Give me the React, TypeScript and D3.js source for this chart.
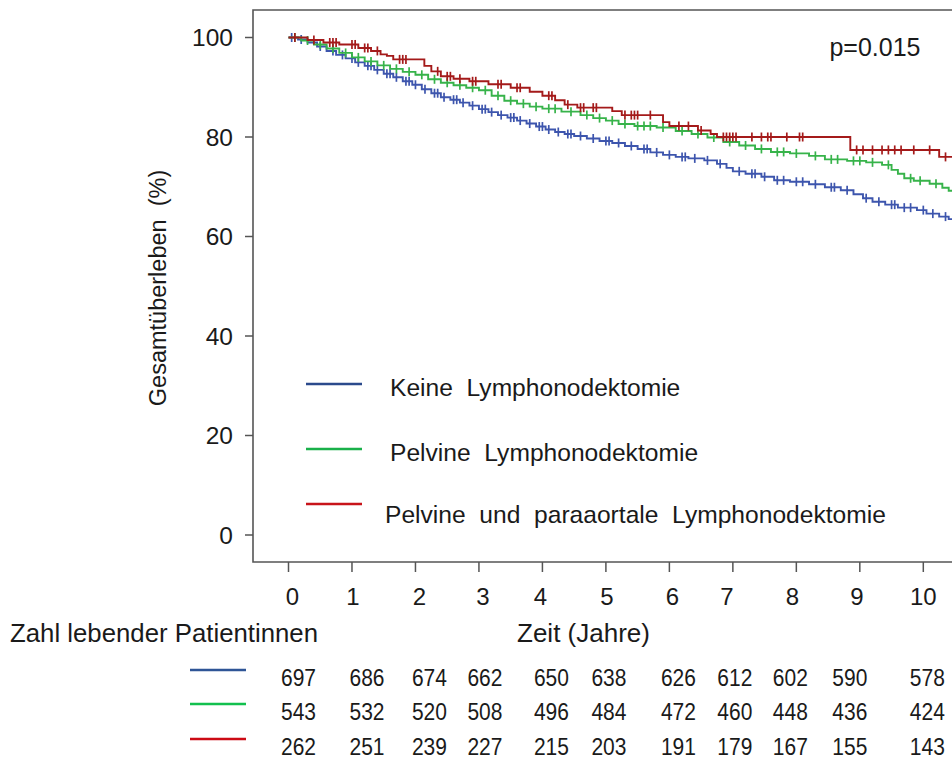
import React from "react";
import * as d3 from "d3";

// ---------- DATA ----------
const seriesNames = [
  "Keine  Lymphonodektomie",
  "Pelvine  Lymphonodektomie",
  "Pelvine  und  paraaortale  Lymphonodektomie",
];

// Kaplan-Meier steps: [time (years), survival (%)]
const blueSteps: [number, number][] = [
  [0, 100], [0.15, 99.6], [0.3, 99.0], [0.45, 98.2], [0.6, 97.3], [0.75, 96.5], [0.9, 95.8],
  [1.05, 95.0], [1.2, 94.3], [1.35, 93.5], [1.5, 92.7], [1.65, 92.0], [1.8, 91.2], [1.95, 90.5],
  [2.1, 89.6], [2.25, 88.8], [2.4, 88.0], [2.55, 87.5], [2.7, 86.9], [2.85, 86.3], [3.0, 85.6],
  [3.15, 85.0], [3.3, 84.4], [3.45, 83.9], [3.6, 83.3], [3.75, 82.7], [3.9, 82.1], [4.05, 81.5],
  [4.2, 81.0], [4.35, 80.6], [4.5, 80.2], [4.7, 79.7], [4.9, 79.2], [5.1, 78.8], [5.3, 78.2],
  [5.5, 77.6], [5.7, 76.9], [5.9, 76.4], [6.1, 76.0], [6.3, 75.7], [6.55, 75.3], [6.75, 74.6],
  [6.9, 73.8], [7.0, 73.1], [7.2, 72.6], [7.45, 72.0], [7.65, 71.3], [7.9, 71.0], [8.2, 70.5],
  [8.45, 69.9], [8.7, 69.3], [8.9, 68.5], [9.05, 67.7], [9.2, 67.0], [9.4, 66.4], [9.6, 65.8],
  [9.9, 65.3], [10.05, 64.6], [10.25, 64.0], [10.4, 63.5], [10.5, 63.5],
];
const greenSteps: [number, number][] = [
  [0, 100], [0.2, 99.4], [0.4, 98.6], [0.6, 97.8], [0.8, 96.9], [1.0, 96.0], [1.2, 95.2],
  [1.4, 94.4], [1.6, 93.7], [1.8, 93.1], [2.0, 92.5], [2.2, 91.6], [2.4, 90.9], [2.6, 90.4],
  [2.8, 89.9], [3.0, 89.4], [3.2, 88.3], [3.4, 87.3], [3.6, 86.7], [3.8, 86.1], [4.0, 85.7],
  [4.3, 85.1], [4.6, 84.4], [4.8, 83.8], [5.0, 83.3], [5.2, 82.6], [5.45, 82.2], [5.8, 81.9],
  [6.1, 81.2], [6.35, 80.6], [6.6, 79.9], [6.85, 79.0], [7.1, 78.3], [7.35, 77.6], [7.6, 77.0],
  [7.9, 76.7], [8.2, 76.2], [8.45, 75.5], [8.8, 75.2], [9.1, 74.9], [9.35, 74.4], [9.5, 73.4],
  [9.6, 72.6], [9.7, 71.7], [9.85, 71.2], [10.1, 70.6], [10.3, 69.8], [10.4, 69.2], [10.5, 69.2],
];
const redSteps: [number, number][] = [
  [0, 100], [0.3, 99.5], [0.55, 99.0], [0.8, 98.6], [1.1, 97.9], [1.3, 97.3], [1.45, 96.6],
  [1.55, 96.3], [1.65, 95.6], [2.14, 94.3], [2.25, 93.2], [2.4, 92.2], [2.6, 91.7], [2.85, 91.2],
  [3.15, 90.6], [3.5, 89.9], [3.8, 89.1], [4.0, 88.3], [4.2, 87.4], [4.35, 86.5], [4.55, 85.9],
  [5.1, 85.2], [5.25, 84.4], [5.9, 83.0], [6.0, 82.2], [6.45, 81.3], [6.65, 80.6], [6.75, 80.0],
  [8.85, 77.4], [10.25, 76.0], [10.5, 76.0],
];

// censoring times (years)
const blueCensor = [
  0.05, 0.2, 0.5, 0.7, 0.85, 1.0, 1.1, 1.25, 1.3, 1.4, 1.55, 1.6, 1.7, 1.85, 1.9, 2.0, 2.15,
  2.3, 2.35, 2.45, 2.6, 2.65, 2.75, 2.9, 3.05, 3.1, 3.2, 3.35, 3.5, 3.55, 3.65, 3.8, 3.95, 4.0,
  4.1, 4.25, 4.4, 4.45, 4.6, 4.8, 5.0, 5.05, 5.2, 5.4, 5.6, 5.65, 5.8, 6.0, 6.2, 6.25, 6.4, 6.6,
  6.8, 7.1, 7.3, 7.35, 7.5, 7.7, 7.8, 8.0, 8.1, 8.3, 8.55, 8.6, 8.8, 9.1, 9.3, 9.5, 9.55, 9.7,
  9.8, 10.0, 10.15, 10.35,
];
const greenCensor = [
  0.1, 0.3, 0.5, 0.7, 0.9, 1.1, 1.3, 1.5, 1.7, 1.9, 2.1, 2.3, 2.5, 2.7, 2.9, 3.1, 3.3, 3.5,
  3.7, 3.9, 4.1, 4.2, 4.45, 4.7, 4.9, 5.1, 5.3, 5.5, 5.6, 5.7, 5.9, 6.2, 6.45, 6.7, 6.95, 7.2,
  7.45, 7.7, 7.8, 8.0, 8.3, 8.55, 8.65, 8.9, 9.0, 9.2, 9.45, 9.8, 9.95, 10.2,
];
const redCensor = [
  0.1, 0.4, 0.65, 0.7, 0.75, 1.0, 1.05, 1.2, 1.25, 1.4, 1.75, 1.8, 1.85, 2.35, 2.5, 2.55, 2.7,
  2.9, 2.95, 3.3, 3.35, 3.6, 3.65, 4.1, 4.15, 4.4, 4.6, 4.65, 4.8, 4.85, 5.3, 5.4, 5.45, 5.5,
  5.7, 6.15, 6.3, 6.5, 6.85, 6.9, 6.95, 7.0, 7.05, 7.3, 7.45, 7.55, 7.6, 7.85, 8.05, 8.1,
  8.95, 9.05, 9.2, 9.35, 9.45, 9.55, 9.65, 9.85, 10.1, 10.35,
];

const xTicks = [0, 1, 2, 3, 4, 5, 6, 7, 8, 9, 10];
const yTicks = [0, 20, 40, 60, 80, 100];

// numbers at risk
const riskBlue = [697, 686, 674, 662, 650, 638, 626, 612, 602, 590, 578];
const riskGreen = [543, 532, 520, 508, 496, 484, 472, 460, 448, 436, 424];
const riskRed = [262, 251, 239, 227, 215, 203, 191, 179, 167, 155, 143];
// horizontal nudges of the at-risk columns relative to the ticks (px)
const riskNudge = [10, 15, 14, 6, 9, 3, 9, 2, -6, -10, 4];
const labelNudge = [4, 1, 4, 4, -2, 1, 3, -6, -4, -3, 0];

const pValue = "p=0.015";

const curveColors = ["#3d55ad", "#37b34a", "#a41a1a"];
const legendColors = ["#2b4a8c", "#19b04a", "#c8141a"];
const tableColors = ["#2e5596", "#12c04e", "#cc0a14"];

const FONT = "'Liberation Sans', Arial, sans-serif";

export default function App() {
  const x = d3.scaleLinear().domain([0, 10]).range([288.5, 923.3]);
  const y = d3.scaleLinear().domain([0, 100]).range([535, 37.5]);
  const line = d3
    .line<[number, number]>()
    .x((d) => x(d[0]))
    .y((d) => y(d[1]))
    .curve(d3.curveStepAfter);

  const stepsAll = [blueSteps, greenSteps, redSteps];
  const censAll = [blueCensor, greenCensor, redCensor];
  const risks = [riskBlue, riskGreen, riskRed];

  const survAt = (steps: [number, number][], t: number) => {
    let v = steps[0][1];
    for (const s of steps) if (s[0] <= t) v = s[1];
    return v;
  };

  const boxLeft = 253;
  const boxTop = 10;
  const boxBottom = 562;

  return (
    <svg
      width={952}
      height={764}
      style={{ position: "absolute", left: 0, top: 0, background: "#fff" }}
    >
      <defs>
        <clipPath id="plotclip">
          <rect x={boxLeft} y={boxTop} width={952 - boxLeft} height={boxBottom - boxTop} />
        </clipPath>
      </defs>
      <rect x={0} y={0} width={952} height={764} fill="#fff" />

      {/* curves */}
      <g clipPath="url(#plotclip)">
        {stepsAll.map((s, i) => (
          <g key={i}>
            <path d={line(s) || ""} fill="none" stroke={curveColors[i]} strokeWidth={1.9} />
            {censAll[i].map((t, j) => {
              const cx = x(t);
              const cy = y(survAt(s, t));
              return (
                <line
                  key={j}
                  x1={cx}
                  x2={cx}
                  y1={cy - 4.5}
                  y2={cy + 4.5}
                  stroke={curveColors[i]}
                  strokeWidth={1.7}
                />
              );
            })}
          </g>
        ))}
      </g>

      {/* box */}
      <path
        d={`M${960},${boxTop} H${boxLeft} V${boxBottom} H${960}`}
        fill="none"
        stroke="#555"
        strokeWidth={1.6}
      />

      {/* y axis */}
      {yTicks.map((t) => (
        <g key={t}>
          <line x1={245} x2={boxLeft} y1={y(t)} y2={y(t)} stroke="#555" strokeWidth={1.5} />
          <text
            x={233}
            y={y(t)}
            dy="0.36em"
            textAnchor="end"
            fontFamily={FONT}
            fontSize={24.5}
            fill="#1a1a1a"
          >
            {t}
          </text>
        </g>
      ))}
      <text
        transform={`translate(166,288) rotate(-90)`}
        textAnchor="middle"
        fontFamily={FONT}
        fontSize={23.5}
        fill="#1a1a1a"
        xmlSpace="preserve"
      >
        Gesamtüberleben  (%)
      </text>

      {/* x axis */}
      {xTicks.map((t, i) => (
        <g key={t}>
          <line x1={x(t)} x2={x(t)} y1={boxBottom} y2={572} stroke="#555" strokeWidth={1.5} />
          <text
            x={x(t) + labelNudge[i]}
            y={596}
            dy="0.36em"
            textAnchor="middle"
            fontFamily={FONT}
            fontSize={24}
            fill="#1a1a1a"
          >
            {t}
          </text>
        </g>
      ))}
      <text
        x={517}
        y={633}
        dy="0.36em"
        fontFamily={FONT}
        fontSize={25}
        fill="#1a1a1a"
        textLength={133}
        lengthAdjust="spacingAndGlyphs"
      >
        Zeit (Jahre)
      </text>
      <text
        x={10}
        y={633}
        dy="0.36em"
        fontFamily={FONT}
        fontSize={25}
        fill="#1a1a1a"
        textLength={308}
        lengthAdjust="spacingAndGlyphs"
      >
        Zahl lebender Patientinnen
      </text>

      {/* p value */}
      <text x={875} y={47} dy="0.36em" textAnchor="middle" fontFamily={FONT} fontSize={25} fill="#1a1a1a">
        {pValue}
      </text>

      {/* legend */}
      {seriesNames.map((n, i) => {
        const ly = [384, 449, 504][i];
        const ty = [387, 452, 514][i];
        const tx = [390, 390, 385][i];
        return (
          <g key={n}>
            <line x1={306} x2={362} y1={ly} y2={ly} stroke={legendColors[i]} strokeWidth={2.6} />
            <text x={tx} y={ty} dy="0.36em" fontFamily={FONT} fontSize={24.6} fill="#1a1a1a" xmlSpace="preserve">
              {n}
            </text>
          </g>
        );
      })}

      {/* numbers at risk */}
      {risks.map((row, i) => {
        const ry = [678, 712, 747][i];
        const lineY = [670, 704, 739][i];
        return (
          <g key={i}>
            <line x1={190} x2={246} y1={lineY} y2={lineY} stroke={tableColors[i]} strokeWidth={2.6} />
            {row.map((v, j) => (
              <text
                key={j}
                x={x(xTicks[j]) + riskNudge[j] - 17.5}
                y={ry}
                dy="0.36em"
                fontFamily={FONT}
                fontSize={23}
                fill="#1a1a1a"
                textLength={35}
                lengthAdjust="spacingAndGlyphs"
              >
                {v}
              </text>
            ))}
          </g>
        );
      })}
    </svg>
  );
}
